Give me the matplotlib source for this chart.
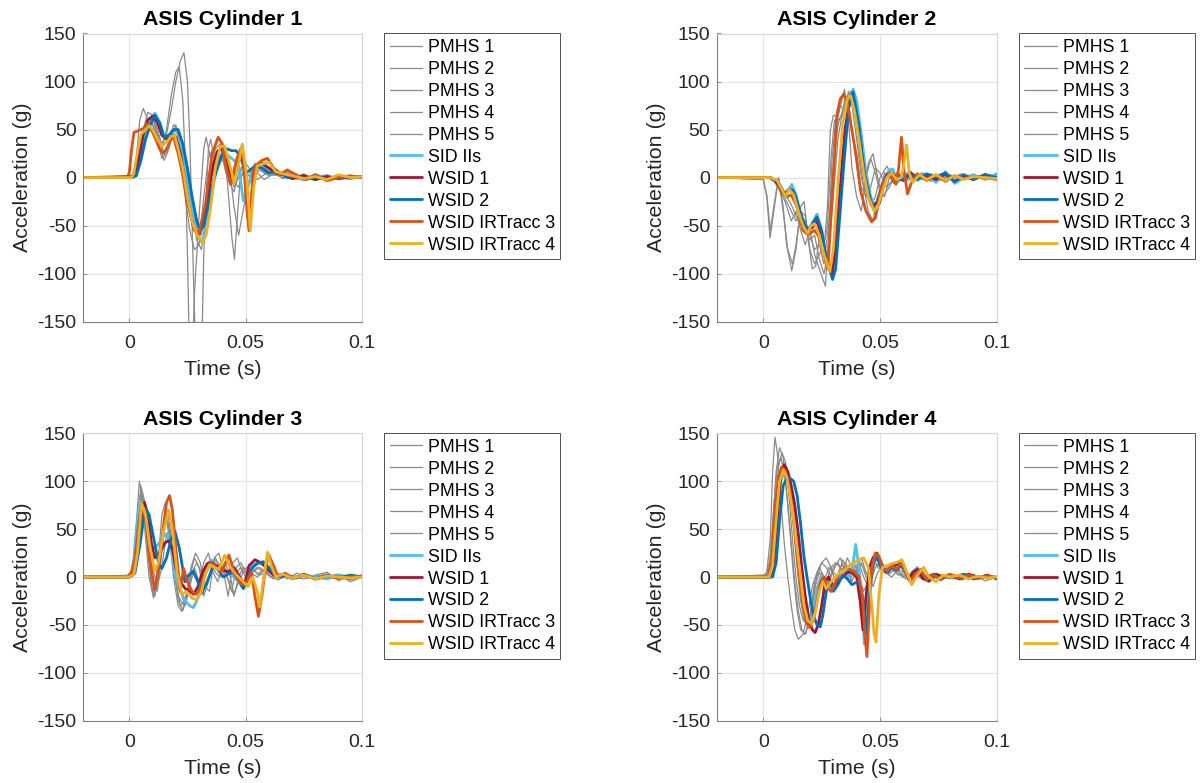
import matplotlib
matplotlib.use("Agg")
import matplotlib.pyplot as plt

plt.rcParams['font.family'] = ['Liberation Sans', 'DejaVu Sans']
plt.rcParams['axes.unicode_minus'] = False

# ---------------- data (time in ms, acceleration in g) ----------------
titles = ["ASIS Cylinder 1", "ASIS Cylinder 2", "ASIS Cylinder 3", "ASIS Cylinder 4"]
labels = ["PMHS 1", "PMHS 2", "PMHS 3", "PMHS 4", "PMHS 5",
          "SID IIs", "WSID 1", "WSID 2", "WSID IRTracc 3", "WSID IRTracc 4"]
xticks = [0, 0.05, 0.1]
xticklabels = ["0", "0.05", "0.1"]
yticks = [-150, -100, -50, 0, 50, 100, 150]

# ---- Cylinder 1 ----
c1_pmhs1 = [(-20,0),(2,0),(4,10),(6,40),(8,55),(10,60),(12,50),(14,35),(16,45),(18,70),(20,100),(22,122),
            (23.5,130),(25,100),(26,40),(27,-50),(28,-140),(29,-200),(31,-200),(32,-80),(34,30),(35,40),(37,10),
            (39,20),(41,15),(43,5),(45,-10),(47,0),(50,5),(53,0),(56,8),(60,2),(65,5),(70,6),(75,0),(80,3),
            (85,-3),(90,2),(95,0),(100,1)]
c1_pmhs2 = [(-20,0),(2,0),(4,15),(6,50),(8,68),(10,65),(12,45),(14,30),(16,50),(18,85),(20,110),(21.5,115),
            (23,80),(24,20),(25,-80),(26,-200),(27,-200),(28,-120),(30,-40),(32,30),(33,42),(35,20),(37,0),
            (39,15),(41,25),(43,10),(45,-30),(47,-60),(50,-20),(54,15),(58,5),(62,8),(66,3),(70,-2),(75,4),
            (80,-3),(85,2),(90,-1),(95,1),(100,0)]
c1_pmhs3 = [(-20,0),(2,0),(3,20),(4.5,60),(6,72),(8,60),(10,55),(12,40),(14,20),(16,25),(18,40),(20,55),
            (22,30),(24,-20),(26,-55),(28,-75),(30,-70),(32,-20),(34,20),(36,30),(38,20),(40,25),(42,0),
            (44,-60),(45.2,-85),(46.5,-40),(48,10),(50,15),(53,5),(56,10),(60,3),(65,2),(70,5),(75,0),(80,-3),
            (85,2),(90,0),(95,-2),(100,1)]
c1_pmhs4 = [(-20,0),(3,2),(5,30),(7,55),(9,62),(11,50),(13,30),(15,18),(17,30),(19,50),(21,45),(23,20),
            (25,-10),(27,-40),(29,-65),(31,-75),(33,-40),(35,0),(37,30),(39,35),(41,10),(43,-5),(45,-15),
            (47,5),(49,10),(52,0),(55,5),(58,-2),(62,4),(66,0),(70,3),(75,-2),(80,2),(85,-4),(90,0),(95,2),(100,0)]
c1_pmhs5 = [(-20,0),(3,1),(5,20),(7,50),(9,58),(11,60),(13,40),(15,25),(17,35),(19,55),(21,50),(23,30),
            (25,0),(27,-30),(29,-50),(31,-60),(33,-30),(35,10),(37,25),(39,20),(41,20),(43,5),(45,-5),
            (47,-10),(49,8),(52,5),(55,-2),(58,3),(62,6),(66,-1),(70,2),(75,-3),(80,1),(85,3),(90,-2),(95,0),(100,1)]
c1_sid = [(-20,0),(1,0),(3,5),(5,30),(7,50),(9,60),(11,67),(13,58),(15,42),(17,44),(19,46),(21,40),(23,22),
          (25,-5),(27,-35),(29,-58),(31,-67),(33,-55),(35,-25),(37,5),(39,22),(41,26),(43,22),(45,18),(47,12),
          (49,-24),(51,-10),(53,8),(55,10),(57,14),(60,6),(63,8),(66,3),(70,0),(75,-2),(80,3),(85,-1),(90,2),
          (95,0),(100,1)]
c1_wsid1 = [(-20,0),(1,1),(3,8),(4,20),(6,45),(8,60),(10,64),(12,58),(14,44),(16,40),(18,44),(20,42),(22,25),
            (24,-5),(26,-35),(28,-55),(30,-58),(32,-45),(34,-15),(36,12),(38,28),(40,30),(42,15),(44,-3),(46,10),
            (48,30),(50,0),(51.5,-55),(53,-10),(55,12),(57,15),(60,10),(63,5),(66,3),(70,-1),(75,2),(80,-2),
            (85,1),(90,-1),(95,1),(100,1)]
c1_wsid2 = [(-20,0),(1,0),(3,2),(5,18),(7,40),(9,55),(11,65),(13,57),(15,42),(17,44),(19,50),(21,50),(23,35),
            (25,10),(27,-20),(29,-45),(30.5,-55),(32,-50),(34,-28),(36,-5),(38,12),(40,25),(42,30),(44,28),
            (46,28),(48,20),(50,5),(52,8),(54,12),(57,10),(60,5),(64,6),(68,0),(72,2),(76,-2),(80,1),(85,-1),
            (90,1),(95,0),(100,1)]
c1_ir3 = [(-20,0),(-1,0),(0,5),(1,30),(2,47),(4,49),(6,51),(7.5,56),(9,52),(11,42),(13,30),(14.7,25),(16,30),
          (18,40),(19,42),(21,25),(22.6,7),(24.8,-24),(27.7,-52),(29.8,-59),(32.7,-28),(35.6,25),(38.2,42),
          (40,35),(41.4,14),(43.5,-7),(46.4,21),(48.6,33),(50.7,-38),(51.7,-55),(53.2,7),(55,14),(57,18),
          (59.4,20),(62,10),(65,4),(68,8),(72,2),(76,-2),(80,3),(85,-3),(90,0),(95,2),(100,0)]
c1_ir4 = [(-20,0),(1,0),(2,5),(3,20),(5,45),(7,50),(8.5,54),(10,50),(12,40),(14,33),(16,37),(18,43),(19.5,44),
          (21,30),(23,10),(25,-20),(27,-45),(29,-60),(31.5,-67),(33,-60),(35,-30),(37,10),(39,32),(41,33),
          (43,15),(45,-5),(47,15),(48.6,35),(50.5,0),(52,-55),(53.5,-10),(55,12),(57,14),(60,16),(63,6),
          (66,4),(70,2),(75,-1),(80,1),(85,-2),(90,3),(95,0),(100,1)]

# ---- Cylinder 2 ----
c2_pmhs1 = [(-20,0),(0,-2),(1.5,-20),(2.9,-63),(4.5,-35),(6.5,0),(8.5,-30),(10,-70),(12.2,-97),(14,-75),
            (16,-30),(17.5,-25),(19,-60),(21,-95),(22.5,-92),(24,-60),(26,-75),(27.5,-30),(28.7,49),(30,65),
            (32,63),(34.8,92),(36.5,60),(38,10),(40,-20),(42,-35),(44,0),(46,20),(48,5),(50,-15),(52,-20),
            (54,0),(57,-5),(60,5),(64,-3),(68,2),(72,-4),(76,3),(80,0),(85,2),(90,-3),(95,4),(100,1)]
c2_pmhs2 = [(-20,0),(0,-2),(1.5,-18),(3,-55),(4.5,-30),(6.5,0),(8.5,-35),(10.5,-75),(12.5,-90),(14,-70),
            (16,-35),(18,-40),(20,-75),(22,-90),(24,-80),(26,-70),(27.5,-50),(29,20),(30.5,60),(32,60),
            (34,65),(35,85),(37,70),(39,30),(41,-5),(43,-15),(45,15),(47,25),(49,0),(51,-20),(54,-10),(57,5),
            (60,0),(64,3),(68,-2),(72,4),(76,-3),(80,2),(85,0),(90,-2),(95,3),(100,0)]
c2_pmhs3 = [(-20,0),(2,0),(4,-3),(6,-5),(8,-15),(10,-30),(12,-45),(14,-35),(16,-55),(18,-70),(20,-55),
            (22,-80),(24,-95),(26.6,-113),(28,-60),(29.5,20),(31,60),(33,75),(35,70),(36.5,90),(38,75),
            (40,40),(42,0),(44,-20),(46,-10),(48,10),(50,5),(53,-10),(56,0),(60,4),(64,-3),(68,3),(72,-2),
            (76,4),(80,0),(85,3),(90,-2),(95,1),(100,0)]
c2_pmhs4 = [(-20,0),(2,0),(4,-2),(6,-8),(8,-18),(10,-25),(12,-35),(14,-45),(16,-40),(18,-55),(20,-65),
            (22,-60),(24,-85),(26,-100),(28,-75),(30,-20),(32,40),(34,70),(36,80),(37.5,90),(39,75),(41,30),
            (43,-10),(45,-35),(47,-45),(49,-20),(52,5),(55,0),(58,5),(62,-3),(66,4),(70,0),(75,-2),(80,3),
            (85,-2),(90,2),(95,0),(100,2)]
c2_pmhs5 = [(-20,0),(2,0),(4,-2),(6,-6),(8,-12),(10,-20),(12,-28),(14,-40),(16,-50),(18,-45),(20,-60),
            (22,-75),(24,-70),(26,-90),(28,-50),(30,10),(32,55),(34,70),(36,85),(38,80),(40,55),(42,20),
            (44,-15),(46,-30),(48,-20),(50,0),(53,12),(56,-5),(60,3),(64,-2),(68,5),(72,0),(76,3),(80,-1),
            (85,4),(90,-2),(95,3),(100,1)]
c2_sid = [(-20,0),(3,0),(5,-4),(7,-12),(9,-22),(10.5,-15),(12.2,-7),(14,-18),(16,-40),(18,-52),(20,-52),
          (21.5,-45),(23,-38),(25,-55),(27,-85),(29,-100),(30.5,-90),(32,-40),(34,20),(36,70),(38.5,92),
          (40,80),(42,45),(44,5),(46,-20),(48,-30),(50,-15),(52,0),(54,8),(55.5,9),(57.5,-5),(60,2),(63,6),
          (66,-3),(70,3),(74,-5),(78,6),(82,-6),(86,0),(90,3),(95,-2),(100,4)]
c2_wsid1 = [(-20,0),(3,0),(5,-3),(7,-10),(9,-18),(11,-12),(13,-15),(15,-30),(17,-45),(19,-55),(21,-52),
            (23,-45),(25,-60),(27,-85),(29.5,-100),(31,-70),(33,-10),(35,50),(37.5,85),(39,80),(41,50),
            (43,10),(45,-20),(47,-30),(49,-25),(51,-8),(53,3),(55,5),(57,0),(60,-3),(63,5),(66,0),(70,2),
            (74,-2),(78,4),(82,-4),(86,2),(90,-2),(95,3),(100,-1)]
c2_wsid2 = [(-20,0),(3,0),(6.5,-5),(9.3,-17),(11,-12),(12.5,-13),(14,-20),(16,-38),(18,-50),(19.4,-55),
            (21,-48),(23,-41),(25,-55),(27,-85),(29.7,-106),(31,-95),(32.3,-55),(34.5,14),(36.6,73),(38.4,89),
            (41,53),(43,7),(46,-24),(48,-36),(50,-25),(52.4,0),(54.6,5),(56,-5),(58,2),(60,-3),(63,3),(66,-2),
            (70,4),(74,0),(78,5),(82,-4),(86,3),(90,-2),(95,3),(100,0)]
c2_ir3 = [(-20,0),(3,0),(6,-3),(8,-17),(10,-20),(12,-18),(14,-28),(15,-35),(17,-55),(19,-59),(20,-58),
          (22,-55),(24,-62),(26,-80),(27.7,-95),(29.5,-20),(31.6,66),(33,82),(34.5,87),(36,78),(38,49),
          (40,20),(41.7,-14),(44,-35),(46.4,-46),(48,-42),(51,-7),(53.9,4),(56.8,-7),(58,10),(59.2,42),
          (60.3,7),(61.8,-17),(63.5,-5),(66,4),(70,-3),(74,3),(78,-4),(82,2),(86,-1),(90,1),(95,0),(100,-2)]
c2_ir4 = [(-20,0),(3,0),(6,-3),(8,-12),(9.5,-20),(11,-12),(13,-18),(15,-35),(17,-50),(19,-58),(20.5,-50),
          (22,-48),(24,-60),(26,-80),(28.5,-98),(30,-75),(32,-5),(34,55),(36,82),(37.5,85),(39,70),(41,40),
          (43,5),(45,-20),(47.5,-35),(49,-30),(51,-15),(53,0),(55,5),(57,-2),(59,0),(60,10),(61.4,34),
          (62.5,5),(64,-5),(67,3),(70,-2),(74,3),(78,-3),(82,2),(86,-2),(90,1),(95,0),(100,-1)]

# ---- Cylinder 3 ----
c3_pmhs1 = [(-20,0),(0,0),(2,15),(3,55),(4.3,100),(5.5,85),(7,40),(8.5,0),(10.4,-22),(12.5,20),(14,65),
            (15.4,77),(17,50),(19,0),(21,-30),(22.6,-36),(24.5,-20),(26.5,10),(28.5,25),(30.5,15),(32.5,-10),
            (34.5,-15),(36.5,20),(38.5,25),(40.5,5),(42.5,-20),(44.5,15),(46.5,20),(48.5,5),(50.5,10),
            (52.5,12),(55,3),(58,8),(61,0),(64,3),(68,-2),(72,4),(76,0),(80,2),(85,5),(90,-4),(95,2),(100,0)]
c3_pmhs2 = [(-20,0),(0,0),(2,10),(3.5,50),(5,90),(6.5,70),(8,25),(9.5,-10),(11,-20),(13,10),(15,55),
            (16.5,70),(18,40),(20,-5),(22,-30),(24,-25),(26,0),(28,20),(30,10),(32,-20),(34,-5),(36,18),
            (38,15),(40,10),(42,0),(44,-15),(46,10),(48,15),(50,5),(53,8),(56,2),(60,6),(64,0),(68,3),
            (72,-2),(76,2),(80,0),(85,3),(90,-2),(95,0),(100,1)]
c3_pmhs3 = [(-20,0),(0,0),(2,8),(4,55),(5.5,85),(7,75),(8.5,35),(10,0),(12,-15),(14,25),(15.5,60),(17,55),
            (19,20),(21,-25),(23,-35),(25,-20),(27,5),(29,15),(31,5),(33,-10),(35,5),(37,20),(39,10),(41,5),
            (43,-5),(45,-20),(47,0),(49,10),(52,5),(55,0),(58,8),(62,2),(66,4),(70,0),(75,2),(80,-3),(85,1),
            (90,3),(95,-5),(100,0)]
c3_pmhs4 = [(-20,0),(0,0),(2,5),(4,40),(6,75),(8,50),(10,10),(12,-10),(14,10),(16,45),(18,50),(20,20),
            (22,-15),(24,-30),(26,-10),(28,10),(30,-5),(32,15),(34,25),(36,5),(38,-5),(40,10),(42,20),(44,0),
            (46,5),(48,10),(50,0),(53,5),(56,10),(60,2),(64,-3),(68,2),(72,0),(76,3),(80,-2),(85,0),(90,2),
            (95,-2),(100,1)]
c3_pmhs5 = [(-20,0),(0,0),(2,12),(3.5,60),(5,95),(6.5,80),(8,30),(10,-15),(12,-5),(14,40),(15.5,65),(17,45),
            (19,10),(21,-20),(23,-28),(25,-15),(27,5),(29,0),(31,-10),(33,10),(35,15),(37,5),(39,0),(41,15),
            (43,5),(45,-18),(47,-5),(49,5),(52,3),(55,10),(58,5),(62,-2),(66,2),(70,0),(75,-2),(80,1),(85,3),
            (90,-1),(95,-3),(100,0)]
c3_sid = [(-20,0),(0,1),(1,5),(2,20),(3,50),(4.6,79),(6,65),(8.2,34),(10,30),(12.5,34),(14.5,42),(16,45),
          (18,30),(20,0),(22,-15),(24,-25),(26,-30),(27.5,-32),(29,-25),(31,-5),(33,10),(35,18),(37,12),
          (39,10),(41,8),(43,5),(45,0),(47,-5),(49,-12),(51,0),(53,12),(55,15),(57,14),(59,10),(61,5),(63,0),
          (66,3),(70,-2),(75,2),(80,0),(85,-2),(90,2),(95,0),(100,1)]
c3_wsid1 = [(-20,0),(0,0),(2,5),(3.5,25),(5,60),(6.5,78),(8,65),(9.5,35),(11,20),(13,25),(15.4,36),(17,38),
            (18.5,30),(20,10),(22,-5),(24,-12),(26,-15),(27.7,-18),(29.5,-10),(31.5,5),(33.5,14),(35.5,15),
            (37.5,12),(40,8),(42.5,5),(45,10),(47.5,0),(49.5,-8),(51.5,12),(54,18),(56.5,15),(59,10),(61.5,3),
            (64,0),(67,3),(70,-1),(75,2),(80,-2),(85,1),(90,0),(95,-1),(100,1)]
c3_wsid2 = [(-20,0),(0,0),(1,1),(2.4,4),(4.6,34),(6.8,72),(8.5,65),(10.5,40),(12.5,15),(14,9),(16,20),
            (18,40),(19.6,48),(21.5,30),(23.9,-5),(25.5,2),(27.5,6),(29.5,-5),(31.1,-17),(33.5,-5),(36.1,12),
            (38,8),(40.4,0),(42.5,3),(44.7,5),(47,-3),(49,-12),(51,-2),(52.6,9),(55,14),(57.6,16),(60,10),
            (62,4),(65,0),(68,2),(71,-1),(75,3),(80,-2),(85,1),(90,-1),(95,2),(100,0)]
c3_ir3 = [(-20,0),(-1,0),(1,5),(2.5,20),(4,55),(5.3,76),(7,60),(9,15),(10.8,-13),(12.5,5),(14.5,50),(16,78),
          (17.3,85),(18.5,70),(20,30),(21.9,-15),(23.3,9),(25,-5),(27,-15),(28.4,-18),(30,-15),(32,0),(34,10),
          (35.6,15),(37.5,10),(39.5,5),(41,12),(42.8,23),(44.5,10),(46.5,-2),(48.5,-8),(50.5,-5),(52.5,5),
          (54,-20),(55.5,-41),(57,-20),(58.5,10),(60,23),(62,12),(64,0),(67,4),(70,-1),(75,2),(80,-2),(85,1),
          (90,-1),(95,0),(100,1)]
c3_ir4 = [(-20,0),(0,0),(2,3),(3.5,25),(5.3,77),(7,65),(9,30),(11,6),(12.5,15),(14.5,45),(16.9,70),(18.5,50),
          (20.5,5),(22.6,-18),(24.5,-15),(27,-22),(29,-24),(31,-15),(33,5),(34.5,13),(36.5,10),(38.5,8),
          (41,23),(43,12),(45,5),(47,0),(49,-5),(51,-10),(53,0),(55,-15),(56.1,-31),(57.5,-5),(59.4,26),
          (61,12),(63,0),(66,3),(70,-1),(75,2),(80,-2),(85,1),(90,0),(95,-1),(100,0)]

# ---- Cylinder 4 ----
c4_pmhs1 = [(-20,0),(0,1),(1.5,5),(3,40),(4,110),(5,146),(6,130),(7.5,80),(9,35),(10.5,0),(12,-30),
            (13.5,-55),(15,-65),(17,-60),(19,-40),(21,-10),(23,5),(25,15),(27,20),(29,10),(31,-5),(33,10),
            (35,15),(37,8),(39,0),(41,15),(43,10),(45,0),(47,-10),(49,5),(52,12),(55,8),(58,3),(61,-2),(64,5),
            (68,0),(72,3),(76,-2),(80,2),(85,-3),(90,1),(95,-1),(100,0)]
c4_pmhs2 = [(-20,0),(1,2),(2.5,10),(4,50),(5.5,110),(7,135),(8.5,125),(10,90),(11.5,45),(13,0),(14.5,-35),
            (16,-55),(18,-60),(20,-40),(22,-5),(24,10),(26,0),(28,-5),(30,10),(32,15),(34,5),(36,20),(38,10),
            (40,5),(42,15),(44,0),(46,-5),(48,10),(50,15),(53,5),(56,10),(59,3),(62,0),(65,5),(68,-2),(72,3),
            (76,0),(80,-2),(85,2),(90,-1),(95,1),(100,0)]
c4_pmhs3 = [(-20,0),(2,2),(3.5,15),(5,60),(6.5,115),(8,130),(9.5,120),(11,85),(12.5,40),(14,0),(15.5,-30),
            (17,-45),(19,-50),(21,-30),(23,0),(25,15),(27,10),(29,0),(31,12),(33,20),(35,5),(37,-5),(39,10),
            (41,15),(43,0),(45,-10),(47,20),(49,10),(52,5),(55,8),(58,2),(61,6),(64,0),(68,3),(72,-3),(76,2),
            (80,0),(85,-2),(90,3),(95,-4),(100,0)]
c4_pmhs4 = [(-20,0),(1,0),(3,20),(4.5,75),(6,115),(7.5,125),(9,110),(10.5,75),(12,35),(13.5,-5),(15,-35),
            (16.5,-55),(18,-60),(20,-45),(22,-10),(24,5),(26,-5),(28,10),(30,5),(32,0),(34,18),(36,10),(38,-5),
            (40,10),(42,20),(44,5),(46,-5),(48,15),(51,8),(54,3),(57,10),(60,0),(64,4),(68,-2),(72,2),(76,-3),
            (80,1),(85,0),(90,2),(95,-1),(100,0)]
c4_pmhs5 = [(-20,0),(2,1),(4,10),(5.5,50),(7,100),(8.5,120),(10,115),(11.5,90),(13,50),(14.5,10),(16,-25),
            (17.5,-45),(19,-48),(21,-35),(23,-10),(25,5),(27,-5),(29,10),(31,15),(33,10),(35,0),(37,5),(39,15),
            (41,0),(43,-15),(45,-5),(47,15),(49,20),(52,5),(55,0),(58,8),(62,2),(66,5),(70,-2),(74,3),(78,0),
            (82,-2),(86,3),(90,-3),(95,1),(100,-1)]
c4_sid = [(-20,0),(3,0),(4.5,20),(6,70),(7.5,100),(9,110),(10.5,105),(12,85),(13.5,55),(15,15),(16.5,-25),
          (18,-45),(19.5,-50),(21,-40),(22.5,-20),(24,-5),(25.5,0),(27,-10),(29,-15),(31,-10),(33,5),(35,10),
          (37,0),(38.5,15),(39.6,34),(41,10),(42,-20),(43.3,-70),(44.5,-30),(46,10),(48,22),(50,15),(52,8),
          (54,10),(56,12),(58,15),(60,8),(62,-2),(64,5),(66,10),(68.5,0),(71,-5),(74,3),(77,-1),(80,2),(84,0),
          (88,3),(92,-2),(96,1),(100,-1)]
c4_wsid1 = [(-20,0),(3,0),(4.5,10),(6,60),(7.5,105),(9,117),(10.5,110),(12,95),(13.5,75),(15,45),(16.5,10),
            (18,-20),(19.5,-45),(21,-55),(22.2,-58),(23.5,-50),(25,-30),(26.5,-5),(28,0),(30,-10),(32,-5),
            (34,0),(36,5),(38,5),(40,0),(41.5,-25),(42.7,-55),(44,-20),(45.5,10),(47,20),(48.7,25),(50.5,15),
            (52.5,5),(54.5,10),(56.5,12),(58.5,15),(60.5,8),(62.5,-3),(64,5),(66,8),(68.5,-2),(71,-4),(74,3),
            (77,0),(80,2),(84,-2),(88,3),(92,-1),(96,2),(100,-2)]
c4_wsid2 = [(-20,0),(4,0),(5.5,15),(7,60),(8.5,95),(10,103),(11.5,103),(13,100),(14.5,85),(16,55),(17.5,20),
            (18.6,2),(20,-20),(21.5,-40),(23,-50),(24.4,-52),(25.5,-40),(27,-15),(28.5,-5),(30,-15),(32,-8),
            (34,2),(36,-2),(38,-8),(39.5,-6),(41,-5),(42.5,-20),(44,-60),(45.5,-20),(47,15),(48.7,20),
            (50.5,10),(52,8),(53.5,5),(55,10),(57,7),(59,12),(61,5),(63,-3),(65,3),(67.5,5),(70,-2),(73,3),
            (76,-3),(79,2),(82,0),(86,3),(90,-2),(95,1),(100,-1)]
c4_ir3 = [(-20,0),(2,0),(3.5,15),(5,70),(6.5,105),(7.9,115),(9.5,110),(11,95),(12.5,70),(14,35),(15.5,0),
          (17,-30),(18.5,-48),(20,-53),(21.5,-45),(23,-25),(24.5,-5),(26,0),(27.5,-10),(29,-15),(31,-5),(33,5),
          (35,10),(37,8),(39,5),(41,0),(42.5,-20),(43.5,-60),(44.4,-83),(45.3,-40),(46.5,10),(48,25),(49.5,22),
          (51,10),(53,6),(55,12),(57,8),(59,15),(61,5),(63,-5),(65,3),(67.5,8),(70,-3),(73,2),(76,-2),(80,3),
          (84,-1),(88,2),(92,-1),(96,1),(100,0)]
c4_ir4 = [(-20,0),(2.5,0),(4,12),(5.5,60),(7,100),(8.6,112),(10,105),(11.5,85),(13,60),(14.5,30),(16,0),
          (17.5,-30),(19,-45),(20.8,-49),(22.5,-35),(24,-15),(25.5,-5),(27,-12),(29,-5),(31,0),(33,5),(35,8),
          (37,12),(39,15),(41,18),(43,20),(45,10),(46.5,-30),(47.5,-60),(48.3,-68),(49.5,-20),(51,10),(53,12),
          (55,14),(57,15),(59.4,18),(61.5,5),(63.6,-8),(66,2),(68.7,10),(71,0),(74,-5),(77,2),(80,0),(84,2),
          (88,-2),(92,1),(96,-1),(100,0)]

panels = [
    [c1_pmhs1, c1_pmhs2, c1_pmhs3, c1_pmhs4, c1_pmhs5, c1_sid, c1_wsid1, c1_wsid2, c1_ir3, c1_ir4],
    [c2_pmhs1, c2_pmhs2, c2_pmhs3, c2_pmhs4, c2_pmhs5, c2_sid, c2_wsid1, c2_wsid2, c2_ir3, c2_ir4],
    [c3_pmhs1, c3_pmhs2, c3_pmhs3, c3_pmhs4, c3_pmhs5, c3_sid, c3_wsid1, c3_wsid2, c3_ir3, c3_ir4],
    [c4_pmhs1, c4_pmhs2, c4_pmhs3, c4_pmhs4, c4_pmhs5, c4_sid, c4_wsid1, c4_wsid2, c4_ir3, c4_ir4],
]

# ---------------- styles ----------------
gray = '#8a8a8a'
colors = [gray] * 5 + ['#4DBEEE', '#A2142F', '#0072BD', '#D95319', '#EDB120']
widths = [0.9] * 5 + [2.0] * 5

W, H = 1202, 783
fig = plt.figure(figsize=(W / 100, H / 100), dpi=100)

rects = [
    (82.8, 33.5, 279.1, 288.2),
    (716.6, 33.5, 280.1, 288.2),
    (82.8, 433.3, 279.1, 287.4),
    (716.6, 433.3, 280.1, 287.4),
]

for i, (x0, y0, w, h) in enumerate(rects):
    ax = fig.add_axes([x0 / W, 1 - (y0 + h) / H, w / W, h / H])
    for j, curve in enumerate(panels[i]):
        t = [p[0] / 1000.0 for p in curve]
        a = [p[1] for p in curve]
        ax.plot(t, a, color=colors[j], lw=widths[j], label=labels[j],
                solid_joinstyle='round', solid_capstyle='round')
    ax.set_xlim(-0.02, 0.1)
    ax.set_ylim(-150, 150)
    ax.set_xticks(xticks)
    ax.set_xticklabels(xticklabels)
    ax.set_yticks(yticks)
    ax.grid(True, color='#e3e3e3', lw=0.8)
    ax.set_axisbelow(True)
    for s in ['left', 'bottom']:
        ax.spines[s].set_color('#808080')
        ax.spines[s].set_linewidth(0.8)
    for s in ['top', 'right']:
        ax.spines[s].set_color('#d4d4d4')
        ax.spines[s].set_linewidth(0.8)
    ax.tick_params(direction='in', length=3, width=0.6, color='#808080',
                   labelsize=14, labelcolor='#262626')
    ax.tick_params(axis='x', pad=9.5)
    ax.tick_params(axis='y', pad=4.5)
    ax.set_xlabel('Time (s)', fontsize=15.4, color='#262626', labelpad=5.5)
    ax.set_ylabel('Acceleration (g)', fontsize=15.4, color='#262626', labelpad=4)
    ax.set_title(titles[i], fontsize=15.4, fontweight='bold', color='black', pad=6)
    leg = ax.legend(loc='upper left', bbox_to_anchor=(1.08, 1.0), borderaxespad=0,
                    fontsize=12.8, frameon=True, fancybox=False, framealpha=1,
                    edgecolor='#333333', handlelength=1.85, handletextpad=0.3,
                    labelspacing=0.28, borderpad=0.3)
    leg.get_frame().set_linewidth(0.6)

fig.savefig('out.png', dpi=100)
